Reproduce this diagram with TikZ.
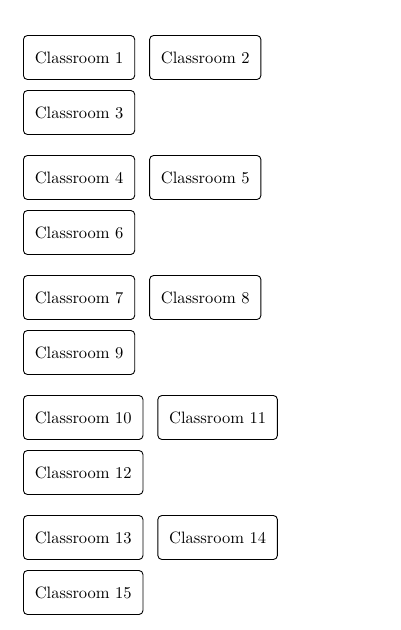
\documentclass[tikz,border=0pt]{standalone}
\usetikzlibrary{positioning}
\font\roomfont="[lmroman10-regular.otf]" at 16.5pt
\begin{document}
\begin{tikzpicture}[x=1pt,y=-1pt,
  room/.style={draw, rounded corners=4pt, line width=0.9pt, inner xsep=11.3pt, inner ysep=0pt,
    minimum height=44pt, anchor=west, font=\roomfont}]
\useasboundingbox (0,0) rectangle (400,630);
\node[room] (c1) at (23,57.5) {Classroom 1};
\node[room, right=14pt of c1] (c2) {Classroom 2};
\node[room] (c3) at (23,112.5) {Classroom 3};
\node[room] (c4) at (23,177.5) {Classroom 4};
\node[room, right=14pt of c4] (c5) {Classroom 5};
\node[room] (c6) at (23,232.5) {Classroom 6};
\node[room] (c7) at (23,297.5) {Classroom 7};
\node[room, right=14pt of c7] (c8) {Classroom 8};
\node[room] (c9) at (23,352.5) {Classroom 9};
\node[room] (c10) at (23,417.5) {Classroom 10};
\node[room, right=14pt of c10] (c11) {Classroom 11};
\node[room] (c12) at (23,472.5) {Classroom 12};
\node[room] (c13) at (23,537.5) {Classroom 13};
\node[room, right=14pt of c13] (c14) {Classroom 14};
\node[room] (c15) at (23,592.5) {Classroom 15};
\end{tikzpicture}
\end{document}
